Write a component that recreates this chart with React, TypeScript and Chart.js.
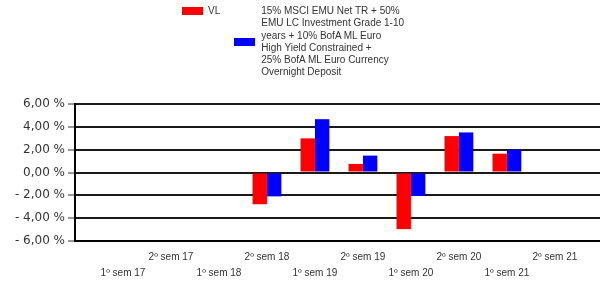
import React, { useEffect, useRef } from 'react';
import { Chart, registerables } from 'chart.js';

Chart.register(...registerables);

const categories = [
  '1º sem 17', '2º sem 17', '1º sem 18', '2º sem 18', '1º sem 19',
  '2º sem 19', '1º sem 20', '2º sem 20', '1º sem 21', '2º sem 21',
];
const vlValues: (number | null)[] = [null, null, null, -2.78, 2.99, 0.75, -4.96, 3.19, 1.65, null];
const benchValues: (number | null)[] = [null, null, null, -2.09, 4.67, 1.48, -2.06, 3.51, 2.0, null];
const yTicks = [-6, -4, -2, 0, 2, 4, 6];
const vlLabel = 'VL';
const benchLabelLines = [
  '15% MSCI EMU Net TR + 50%',
  'EMU LC Investment Grade 1-10',
  'years + 10% BofA ML Euro',
  'High Yield Constrained +',
  '25% BofA ML Euro Currency',
  'Overnight Deposit',
];

const FONT = '"Liberation Sans", Arial, sans-serif';
const YFONT = '"DejaVu Sans", Verdana, sans-serif';

const fmtPct = (v: number) =>
  `${v < 0 ? '- ' : ''}${Math.abs(v).toFixed(2).replace('.', ',')} %`;

const toPoints = (vals: (number | null)[]) =>
  vals
    .map((y, i) => ({ x: i, y }))
    .filter((p) => p.y !== null) as { x: number; y: number }[];

export default function App() {
  const ref = useRef<HTMLCanvasElement | null>(null);

  useEffect(() => {
    if (!ref.current) return;
    const chart = new Chart(ref.current, {
      type: 'bar',
      data: {
        datasets: [
          {
            label: vlLabel,
            data: toPoints(vlValues),
            backgroundColor: '#ff0000',
            borderWidth: 0,
            categoryPercentage: 0.6,
            barPercentage: 1,
          },
          {
            label: benchLabelLines.join(' '),
            data: toPoints(benchValues),
            backgroundColor: '#0000ff',
            borderWidth: 0,
            categoryPercentage: 0.6,
            barPercentage: 1,
          },
        ],
      },
      options: {
        responsive: false,
        animation: false,
        layout: { padding: { top: 104, left: 0, right: 0, bottom: 0 } },
        plugins: { legend: { display: false }, tooltip: { enabled: false } },
        scales: {
          x: {
            type: 'linear',
            min: -1,
            max: 9.94,
            offset: false,
            grid: { display: false, drawTicks: false },
            border: { display: true, color: '#000', width: 2 },
            afterBuildTicks: (s: any) => {
              s.ticks = categories.map((_, i) => ({ value: i }));
            },
            afterFit: (s: any) => {
              s.height = 41;
            },
            ticks: {
              autoSkip: false,
              maxRotation: 0,
              minRotation: 0,
              padding: 8,
              color: '#333',
              font: { family: FONT, size: 10, lineHeight: 1.62 },
              callback: (v: any) => {
                const i = Math.round(Number(v));
                const l = categories[i] ?? '';
                return i % 2 === 0 ? ['', l] : l;
              },
            },
          },
          y: {
            type: 'linear',
            min: -6,
            max: 6,
            afterBuildTicks: (s: any) => {
              s.ticks = yTicks.map((v) => ({ value: v }));
            },
            afterFit: (s: any) => {
              s.width = 75;
            },
            grid: {
              color: '#1a1a1a',
              lineWidth: 2,
              tickLength: 7,
              tickWidth: 1,
              tickColor: '#333',
            },
            border: { display: true, color: '#000', width: 2 },
            ticks: {
              padding: 3,
              color: '#333',
              font: { family: YFONT, size: 12 },
              callback: (v: any) => fmtPct(Number(v)),
            },
          },
        },
      },
    } as any);
    return () => chart.destroy();
  }, []);

  const box = (color: string) => (
    <div style={{ width: 21, height: 8, background: color, flex: '0 0 auto' }} />
  );

  return (
    <div
      style={{
        position: 'absolute',
        left: 0,
        top: 0,
        width: 600,
        height: 282,
        overflow: 'hidden',
        background: '#fff',
        fontFamily: FONT,
        fontSize: 10,
        color: '#333',
      }}
    >
      <canvas ref={ref} width={600} height={282} style={{ position: 'absolute', left: 0, top: 0 }} />
      <div
        style={{
          position: 'absolute',
          left: 182,
          top: 5,
          display: 'flex',
          alignItems: 'flex-start',
          lineHeight: '12.3px',
          whiteSpace: 'nowrap',
        }}
      >
        <div style={{ display: 'flex', alignItems: 'center', marginRight: 14 }}>
          {box('#ff0000')}
          <span style={{ marginLeft: 5 }}>{vlLabel}</span>
        </div>
        <div style={{ display: 'flex', alignItems: 'center' }}>
          {box('#0000ff')}
          <div style={{ marginLeft: 6 }}>
            {benchLabelLines.map((l) => (
              <div key={l}>{l}</div>
            ))}
          </div>
        </div>
      </div>
    </div>
  );
}
